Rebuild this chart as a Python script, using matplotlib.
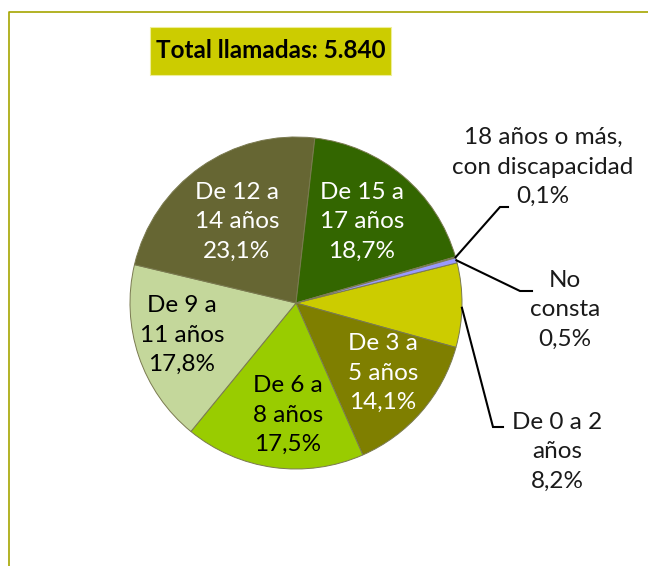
import matplotlib.pyplot as plt
import numpy as np
from matplotlib.patches import Rectangle

# data
categories = ['De 0 a 2\naños', 'De 3 a\n5 años', 'De 6 a\n8 años', 'De 9 a\n11 años',
              'De 12 a\n14 años', 'De 15 a\n17 años', '18 años o más,\ncon discapacidad', 'No\nconsta']
values = [8.2, 14.1, 17.5, 17.8, 23.1, 18.7, 0.1, 0.5]
pct_labels = ['8,2%', '14,1%', '17,5%', '17,8%', '23,1%', '18,7%', '0,1%', '0,5%']
colors = ['#cccc00', '#7f7f00', '#99cc00', '#c4d79b', '#666633', '#336600', '#9999ff', '#9999ff']
title = 'Total llamadas: 5.840'

W, H = 648, 566
plt.rcParams['font.family'] = ['Lato', 'DejaVu Sans']
fig = plt.figure(figsize=(W / 100, H / 100), dpi=100)
ax = fig.add_axes([0, 0, 1, 1])

cx, cy, r = 296, H - 303, 166
wedges, _ = ax.pie(values, colors=colors, startangle=14, counterclock=False,
                   center=(cx, cy), radius=r, frame=True,
                   wedgeprops=dict(edgecolor='#7a7a50', linewidth=0.7))
ax.set_xlim(0, W)
ax.set_ylim(0, H)
ax.axis('off')

# inside labels (pixel positions of text centres)
inside = {1: (383, 373, 'white'), 2: (288, 415, 'black'), 3: (182, 335, 'black'),
          4: (237, 222, 'white'), 5: (362, 222, 'white')}
for i, (x, y, c) in inside.items():
    ax.text(x, H - y, categories[i] + '\n' + pct_labels[i], ha='center', va='center',
            fontsize=17.5, color=c, linespacing=1.5)

# outside labels with leader lines
def edge_point(w, frac=0.5):
    ang = np.deg2rad(w.theta1 + frac * (w.theta2 - w.theta1))
    return cx + r * np.cos(ang), cy + r * np.sin(ang)

outside = {6: ((500, 207), (508, 207), (543, 167), 0.5),
           7: ((520, 291), (532, 291), (565, 310), 0.5),
           0: ((493, 427), (503, 427), (557, 452), 0.47)}
for i, (elbow, end, txt, frac) in outside.items():
    px, py = edge_point(wedges[i], frac)
    ax.plot([px, elbow[0], end[0]], [py, H - elbow[1], H - end[1]], color='black', lw=1.5,
            solid_joinstyle='miter')
    ax.text(txt[0], H - txt[1], categories[i] + '\n' + pct_labels[i], ha='center', va='center',
            fontsize=17.5, color='#1a1a1a', linespacing=1.5)

# title box
ax.add_patch(Rectangle((150, H - 75), 241, 48, facecolor='#cccc00', edgecolor='#eeee99', lw=0.8))
ax.text(271, H - 51, title, ha='center', va='center', fontsize=17.5, fontweight='bold', color='black')

# frame lines
ax.plot([9, 9, W], [0, H - 12, H - 12], color='#a6a600', lw=1.2)

fig.savefig('out.png', dpi=100)
